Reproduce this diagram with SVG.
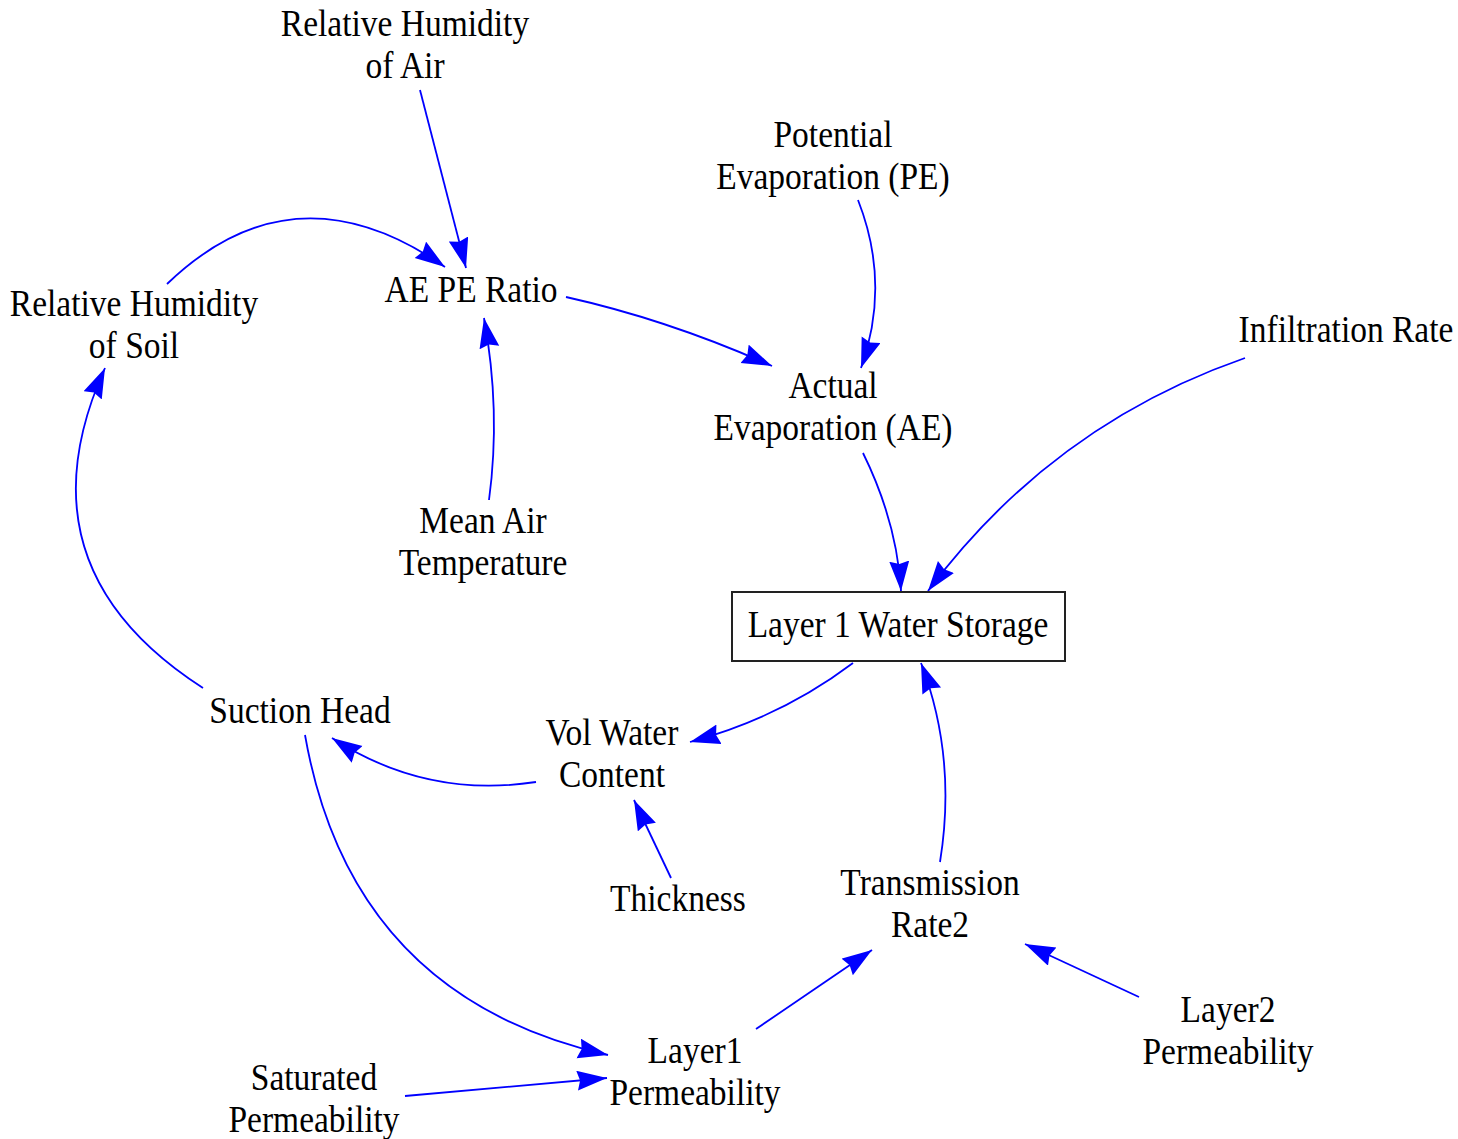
<svg xmlns="http://www.w3.org/2000/svg" width="1458" height="1139" viewBox="0 0 1458 1139">
  <style>
    .lbl { font-family: "Liberation Serif", "Times New Roman", serif; font-size: 33.5px; fill: #000; text-anchor: middle; transform: scaleY(1.11); }
    .link { fill: none; stroke: #0000ff; stroke-width: 1.8; marker-end: url(#head); }
    .stock { fill: #fff; stroke: #222; stroke-width: 2; }
  </style>
  <defs>
    <marker id="head" markerUnits="userSpaceOnUse" markerWidth="32" markerHeight="22" refX="30" refY="10" orient="auto" viewBox="0 0 32 22">
      <path d="M0,0 L30,10 L0,20 L3,10 Z" fill="#0000ff"/>
    </marker>
  </defs>
  <rect width="1458" height="1139" fill="#fff"/>

  <!-- influence links -->
  <g id="connectors">
    <path class="link" d="M420,90 L466,268"/>
    <path class="link" d="M167,284 Q294,162 445,267"/>
    <path class="link" d="M489,500 Q501,411 484,318"/>
    <path class="link" d="M566,297 Q669,320 772,366"/>
    <path class="link" d="M858,200 Q891,284 861,368"/>
    <path class="link" d="M863,453 Q897,522 901,591"/>
    <path class="link" d="M1245,358 Q1052,425 928,591"/>
    <path class="link" d="M853,663 Q780,718 690,742"/>
    <path class="link" d="M536,782 Q426,799 332,738"/>
    <path class="link" d="M203,688 Q15,567 105,368"/>
    <path class="link" d="M305,735 Q351,997 608,1055"/>
    <path class="link" d="M671,878 L634,800"/>
    <path class="link" d="M940,862 Q957,757 921,663"/>
    <path class="link" d="M756,1029 L872,950"/>
    <path class="link" d="M1139,997 L1025,944"/>
    <path class="link" d="M405,1096 L607,1078"/>
  </g>

  <g id="rh-air" transform="translate(405,36)">
    <text class="lbl"><tspan x="0" y="0">Relative Humidity</tspan><tspan x="0" dy="38">of Air</tspan></text>
  </g>
  <g id="potential-evaporation" transform="translate(833,147)">
    <text class="lbl"><tspan x="0" y="0">Potential</tspan><tspan x="0" dy="38">Evaporation (PE)</tspan></text>
  </g>
  <g id="ae-pe-ratio" transform="translate(471,302)">
    <text class="lbl"><tspan x="0" y="0">AE PE Ratio</tspan></text>
  </g>
  <g id="rh-soil" transform="translate(134,316)">
    <text class="lbl"><tspan x="0" y="0">Relative Humidity</tspan><tspan x="0" dy="38">of Soil</tspan></text>
  </g>
  <g id="infiltration-rate" transform="translate(1346,342)">
    <text class="lbl"><tspan x="0" y="0">Infiltration Rate</tspan></text>
  </g>
  <g id="actual-evaporation" transform="translate(833,398)">
    <text class="lbl"><tspan x="0" y="0">Actual</tspan><tspan x="0" dy="38">Evaporation (AE)</tspan></text>
  </g>
  <g id="mean-air-temperature" transform="translate(483,533)">
    <text class="lbl"><tspan x="0" y="0">Mean Air</tspan><tspan x="0" dy="38">Temperature</tspan></text>
  </g>
  <g id="layer1-water-storage">
    <rect class="stock" x="732" y="592" width="333" height="69"/>
    <g transform="translate(898,637)">
      <text class="lbl"><tspan x="0" y="0">Layer 1 Water Storage</tspan></text>
    </g>
  </g>
  <g id="suction-head" transform="translate(300,723)">
    <text class="lbl"><tspan x="0" y="0">Suction Head</tspan></text>
  </g>
  <g id="vol-water-content" transform="translate(612,745)">
    <text class="lbl"><tspan x="0" y="0">Vol Water</tspan><tspan x="0" dy="38">Content</tspan></text>
  </g>
  <g id="thickness" transform="translate(678,911)">
    <text class="lbl"><tspan x="0" y="0">Thickness</tspan></text>
  </g>
  <g id="transmission-rate2" transform="translate(930,895)">
    <text class="lbl"><tspan x="0" y="0">Transmission</tspan><tspan x="0" dy="38">Rate2</tspan></text>
  </g>
  <g id="layer2-permeability" transform="translate(1228,1022)">
    <text class="lbl"><tspan x="0" y="0">Layer2</tspan><tspan x="0" dy="38">Permeability</tspan></text>
  </g>
  <g id="layer1-permeability" transform="translate(695,1063)">
    <text class="lbl"><tspan x="0" y="0">Layer1</tspan><tspan x="0" dy="38">Permeability</tspan></text>
  </g>
  <g id="saturated-permeability" transform="translate(314,1090)">
    <text class="lbl"><tspan x="0" y="0">Saturated</tspan><tspan x="0" dy="38">Permeability</tspan></text>
  </g>
</svg>
